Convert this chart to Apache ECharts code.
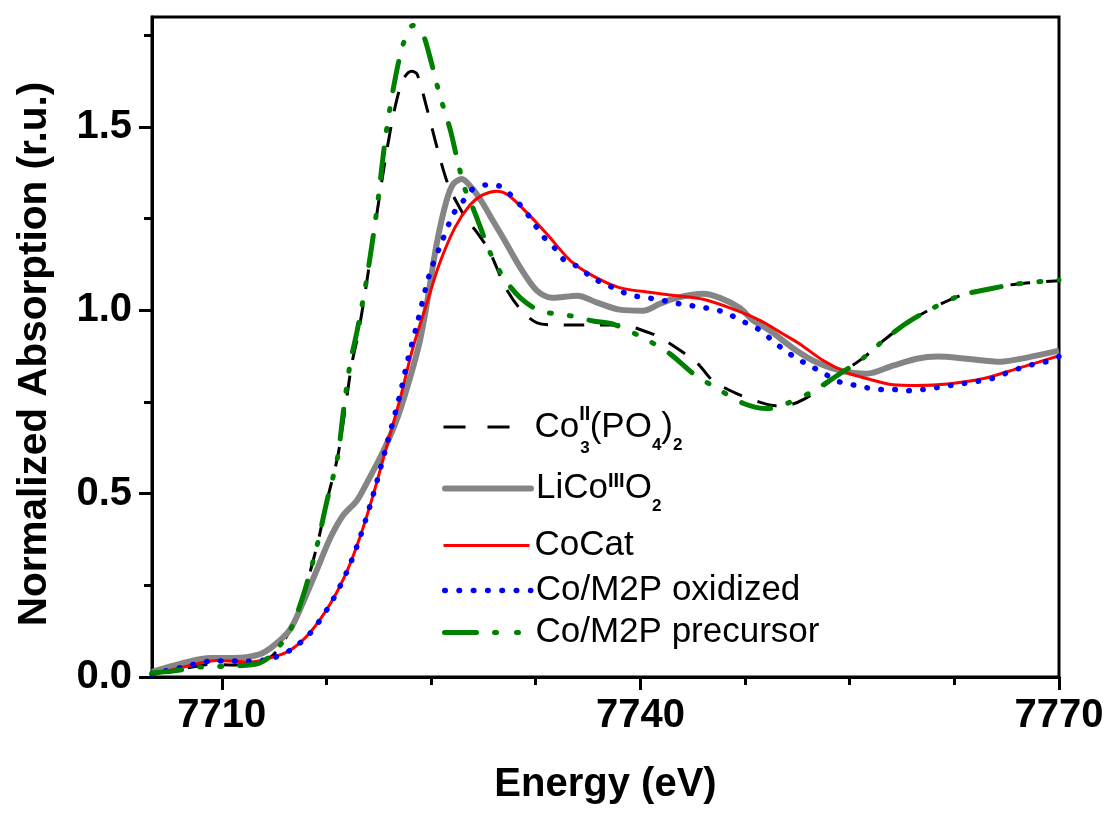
<!DOCTYPE html>
<html>
<head>
<meta charset="utf-8">
<script src="https://cdn.jsdelivr.net/npm/echarts@6/dist/echarts.min.js"></script>
<style>
html,body{margin:0;padding:0;background:#fff;}
#c{width:1109px;height:813px;}
</style>
</head>
<body>
<div id="c"></div>
<script>
// ---- data ----
const xMajorTicks = [7710, 7740, 7770];
const xMinorTicks = [7717.5, 7725, 7732.5, 7747.5, 7755, 7762.5];
const yMajorTicks = [0, 0.5, 1.0, 1.5];
const yMinorTicks = [0.25, 0.75, 1.25, 1.75];

const seriesNames = ['Co3(PO4)2', 'LiCoO2', 'CoCat', 'Co/M2P oxidized', 'Co/M2P precursor'];

const eCo3 = [7705.0,7706.5,7708.0,7709.0,7710.5,7712.0,7713.0,7713.8,7714.9,7715.8,7716.8,7717.5,7718.3,7718.8,7719.3,7719.8,7720.4,7721.1,7721.8,7722.4,7723.0,7723.6,7724.0,7724.7,7725.5,7726.2,7726.9,7727.6,7728.3,7729.2,7730.3,7731.4,7732.6,7734.2,7736.2,7738.5,7740.9,7742.3,7744.1,7745.2,7746.9,7748.6,7749.7,7750.7,7751.7,7752.9,7754.3,7756.0,7757.4,7759.1,7761.0,7762.9,7765.1,7767.0,7770.0];
const aCo3 = [0.010,0.018,0.028,0.034,0.033,0.036,0.045,0.065,0.128,0.218,0.354,0.474,0.600,0.720,0.850,0.940,1.080,1.260,1.430,1.551,1.630,1.652,1.644,1.551,1.434,1.345,1.290,1.245,1.212,1.160,1.065,1.003,0.966,0.960,0.960,0.960,0.935,0.905,0.855,0.808,0.773,0.749,0.740,0.742,0.757,0.787,0.827,0.871,0.917,0.966,1.007,1.040,1.059,1.072,1.081];

const eLiCo = [7705.0,7707.2,7709.2,7710.8,7712.7,7713.7,7714.9,7715.8,7716.8,7717.8,7718.7,7719.7,7720.6,7721.6,7722.6,7723.5,7724.2,7724.7,7725.4,7726.1,7726.6,7727.2,7728.0,7728.7,7729.5,7730.2,7731.4,7732.6,7733.7,7735.5,7736.9,7738.5,7740.2,7741.4,7742.6,7744.5,7745.7,7747.1,7748.0,7749.3,7751.2,7752.7,7754.3,7756.2,7758.1,7759.8,7761.3,7763.4,7765.8,7767.7,7770.0];
const aLiCo = [0.014,0.038,0.052,0.052,0.062,0.085,0.130,0.201,0.291,0.381,0.441,0.482,0.544,0.618,0.708,0.817,0.917,1.018,1.181,1.298,1.345,1.358,1.330,1.292,1.240,1.195,1.116,1.053,1.034,1.040,1.021,1.002,0.999,1.018,1.034,1.045,1.034,1.007,0.975,0.944,0.890,0.857,0.836,0.827,0.849,0.868,0.874,0.868,0.860,0.871,0.890];

const eCoCat = [7705.0,7707.2,7709.7,7712.0,7713.5,7714.9,7716.3,7717.8,7719.0,7719.9,7720.8,7721.8,7722.8,7723.7,7724.7,7725.6,7726.7,7727.8,7728.7,7729.7,7730.5,7731.9,7733.3,7735.0,7736.6,7738.5,7740.9,7742.6,7744.5,7746.6,7748.6,7750.2,7751.4,7753.1,7754.8,7756.2,7758.1,7759.8,7762.2,7764.6,7767.0,7770.0];
const aCoCat = [0.005,0.027,0.045,0.041,0.052,0.073,0.120,0.201,0.291,0.381,0.490,0.626,0.762,0.898,1.020,1.127,1.225,1.288,1.315,1.325,1.315,1.265,1.208,1.135,1.094,1.062,1.048,1.040,1.030,1.004,0.972,0.936,0.909,0.863,0.830,0.814,0.797,0.795,0.800,0.814,0.841,0.876];

const eOxid = [7705.0,7707.0,7709.5,7712.0,7713.5,7714.9,7716.3,7717.8,7719.0,7719.9,7720.8,7721.8,7722.8,7723.3,7724.0,7724.9,7725.8,7726.6,7727.3,7728.0,7729.0,7729.9,7730.7,7731.6,7732.3,7733.0,7733.9,7734.6,7735.7,7736.5,7737.5,7738.5,7739.5,7740.5,7741.4,7742.3,7743.3,7744.4,7745.4,7746.4,7747.4,7748.4,7749.3,7750.2,7751.2,7752.3,7753.2,7754.2,7755.2,7756.2,7757.2,7758.2,7759.2,7760.2,7761.2,7762.2,7763.1,7764.1,7765.2,7766.1,7767.1,7768.1,7769.1,7770.0];
const aOxid = [0.008,0.025,0.044,0.043,0.050,0.073,0.118,0.200,0.290,0.380,0.490,0.630,0.775,0.860,0.963,1.100,1.189,1.263,1.298,1.331,1.342,1.339,1.315,1.278,1.241,1.203,1.168,1.135,1.116,1.089,1.072,1.053,1.040,1.034,1.029,1.021,1.015,1.008,1.002,0.988,0.969,0.950,0.923,0.895,0.869,0.846,0.827,0.806,0.797,0.789,0.784,0.784,0.781,0.784,0.789,0.795,0.800,0.806,0.814,0.827,0.841,0.852,0.860,0.874];

const ePrec = [7705.0,7706.5,7708.4,7710.8,7712.7,7713.7,7714.9,7715.8,7716.8,7717.5,7718.3,7718.7,7719.2,7719.7,7720.4,7721.1,7721.7,7722.3,7723.0,7723.7,7724.4,7724.9,7725.6,7726.4,7726.9,7727.4,7728.0,7728.5,7729.2,7730.2,7731.4,7732.8,7735.0,7736.6,7738.0,7740.2,7742.1,7743.8,7745.5,7747.4,7749.1,7750.5,7752.2,7754.3,7756.0,7757.4,7759.1,7761.0,7762.9,7765.1,7767.0,7770.0];
const aPrec = [0.011,0.016,0.027,0.030,0.038,0.065,0.128,0.218,0.354,0.474,0.600,0.720,0.855,0.944,1.089,1.271,1.462,1.606,1.726,1.777,1.753,1.693,1.590,1.489,1.407,1.334,1.279,1.230,1.160,1.089,1.034,0.999,0.985,0.971,0.963,0.925,0.882,0.827,0.787,0.746,0.732,0.746,0.776,0.827,0.871,0.917,0.966,1.007,1.040,1.059,1.072,1.083];

// ---- chart ----
const FONT = "'Liberation Sans', Arial, sans-serif";
const zip = (xs, ys) => xs.map((x, i) => [x, ys[i]]);

const legendRich = {
  n:  {fontFamily: FONT, fontSize: 35, lineHeight: 35, color: '#000'},
  supA: {fontFamily: FONT, fontSize: 20, lineHeight: 20, fontWeight: 'bold', color: '#000', width: 1, padding: [0, 0, 26, 0]},
  supB: {fontFamily: FONT, fontSize: 20, lineHeight: 20, fontWeight: 'bold', color: '#000', padding: [0, 0, 14, 0]},
  subA: {fontFamily: FONT, fontSize: 17, lineHeight: 17, fontWeight: 'bold', color: '#000', padding: [43, 0, 0, 0]},
  subB: {fontFamily: FONT, fontSize: 17, lineHeight: 17, fontWeight: 'bold', color: '#000', padding: [36, 0, 0, 0]}
};
const legendLabels = {
  'Co3(PO4)2': '{n|Co}{supA|II}{subA|3}{n|(PO}{subB|4}{n|)}{subB|2}',
  'LiCoO2': '{n|LiCo}{supB|III}{n|O}{subB|2}',
  'CoCat': '{n|CoCat}',
  'Co/M2P oxidized': '{n|Co/M2P oxidized}',
  'Co/M2P precursor': '{n|Co/M2P precursor}'
};
const legendTops = [392, 457, 523, 568, 610];
const legendLine = [
  {width: 3, type: [22, 22]},
  {width: 6, type: 'solid', cap: 'round'},
  {width: 3, type: 'solid'},
  {width: 5.5, type: [0.5, 13.8], cap: 'round'},
  {width: 5, type: [32, 18, 2, 20, 2, 20], cap: 'round'}
];

const option = {
  animation: false,
  backgroundColor: '#fff',
  grid: {left: 152, top: 17, right: 50, bottom: 136, show: true, borderColor: '#000', borderWidth: 3, backgroundColor: 'transparent'},
  legend: seriesNames.map((nm, i) => ({
    data: [nm],
    left: 437,
    top: legendTops[i],
    orient: 'vertical',
    itemWidth: 86,
    itemHeight: 14,
    selectedMode: false,
    itemStyle: {opacity: 0},
    lineStyle: legendLine[i],
    formatter: (name) => legendLabels[name],
    textStyle: {fontFamily: FONT, fontSize: 35, color: '#000', rich: legendRich}
  })),
  xAxis: [
    {
      type: 'value', min: 7705, max: 7770,
      name: 'Energy (eV)', nameLocation: 'middle', nameGap: 88,
      nameTextStyle: {fontFamily: FONT, fontSize: 40, fontWeight: 'bold', color: '#000'},
      axisLine: {show: true, lineStyle: {color: '#000', width: 3}},
      axisTick: {show: true, customValues: xMajorTicks, length: 13, lineStyle: {color: '#000', width: 3}},
      axisLabel: {customValues: xMajorTicks, margin: 19, fontFamily: FONT, fontSize: 40, fontWeight: 'bold', color: '#000',
                  formatter: (v) => String(v)},
      splitLine: {show: false}
    },
    {
      type: 'value', min: 7705, max: 7770, position: 'bottom',
      axisLine: {show: false},
      axisTick: {show: true, customValues: xMinorTicks, length: 8, lineStyle: {color: '#000', width: 3}},
      axisLabel: {show: false},
      splitLine: {show: false}
    }
  ],
  yAxis: [
    {
      type: 'value', min: 0, max: 1.8,
      name: 'Normalized Absorption (r.u.)', nameLocation: 'middle', nameGap: 97,
      nameTextStyle: {fontFamily: FONT, fontSize: 40.5, fontWeight: 'bold', color: '#000', padding: [0, 14, 0, 0]},
      axisLine: {show: true, lineStyle: {color: '#000', width: 3}},
      axisTick: {show: true, customValues: yMajorTicks, length: 13, lineStyle: {color: '#000', width: 3}},
      axisLabel: {customValues: yMajorTicks, margin: 20, fontFamily: FONT, fontSize: 40, fontWeight: 'bold', color: '#000',
                  formatter: (v) => v.toFixed(1)},
      splitLine: {show: false}
    },
    {
      type: 'value', min: 0, max: 1.8, position: 'left',
      axisLine: {show: false},
      axisTick: {show: true, customValues: yMinorTicks, length: 8, lineStyle: {color: '#000', width: 3}},
      axisLabel: {show: false},
      splitLine: {show: false}
    }
  ],
  series: [
    {name: seriesNames[0], type: 'line', data: zip(eCo3, aCo3), symbol: 'none', smooth: 0.3,
     lineStyle: {color: '#000', width: 3, type: [20, 16]}, itemStyle: {color: '#000'}},
    {name: seriesNames[1], type: 'line', data: zip(eLiCo, aLiCo), symbol: 'none', smooth: 0.3,
     lineStyle: {color: '#858585', width: 6}, itemStyle: {color: '#858585'}},
    {name: seriesNames[2], type: 'line', data: zip(eCoCat, aCoCat), symbol: 'none', smooth: 0.3,
     lineStyle: {color: '#ff0000', width: 3}, itemStyle: {color: '#ff0000'}},
    {name: seriesNames[3], type: 'line', data: zip(eOxid, aOxid), symbol: 'none', smooth: 0.3,
     lineStyle: {color: '#0000ff', width: 5.5, type: [0.5, 13.5], cap: 'round'}, itemStyle: {color: '#0000ff'}},
    {name: seriesNames[4], type: 'line', data: zip(ePrec, aPrec), symbol: 'none', smooth: 0.3,
     lineStyle: {color: '#008000', width: 5, type: [30, 18, 2, 18, 2, 18], cap: 'round'}, itemStyle: {color: '#008000'}}
  ]
};

const chart = echarts.init(document.getElementById('c'), null, {renderer: 'canvas'});
chart.setOption(option);
</script>
</body>
</html>
